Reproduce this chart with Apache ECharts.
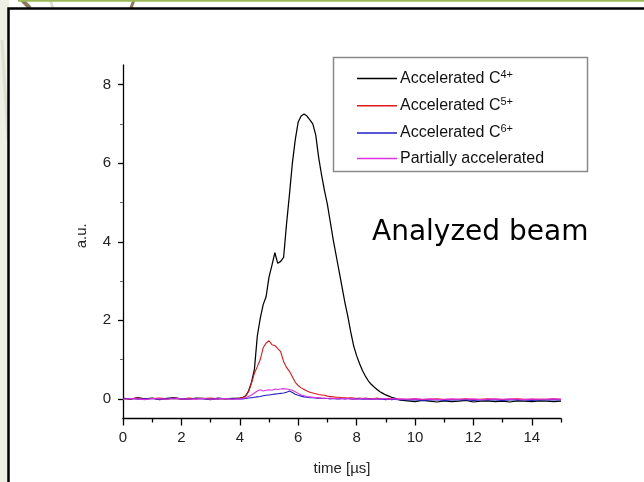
<!DOCTYPE html>
<html>
<head>
<meta charset="utf-8">
<script src="https://cdn.jsdelivr.net/npm/echarts@6/dist/echarts.min.js"></script>
<style>
html,body{margin:0;padding:0;background:#fff;}
#chart{width:644px;height:482px;}
</style>
</head>
<body>
<div id="chart"></div>
<script>
// time axis samples (µs)
const times = [
  0,0.25,0.5,0.75,1,1.25,1.5,1.75,2,2.25,2.5,2.75,3,3.25,3.5,3.75,4,
  4.1,4.2,4.3,4.4,4.5,4.6,4.7,4.8,4.9,5,5.1,5.2,5.3,5.4,5.5,5.6,5.7,5.8,5.9,6,
  6.1,6.2,6.3,6.4,6.5,6.6,6.7,6.8,6.9,7,7.1,7.2,7.3,7.4,7.5,
  7.6,7.7,7.8,7.9,8,8.1,8.2,8.3,8.4,8.5,8.6,8.7,8.8,8.9,9,9.1,9.2,9.3,9.4,9.5,
  9.75,10,10.25,10.5,10.75,11,11.25,11.5,11.75,12,12.25,12.5,12.75,13,13.25,13.5,13.75,14,14.25,14.5,14.75,15
];
const c4Values = [
  0.02,-0.01,0.03,0,0.02,-0.02,0.01,0.03,0,-0.01,0.02,0.01,-0.02,0.02,0,0.01,0.02,
  0.03,0.08,0.2,0.42,0.75,1.6,2.05,2.4,2.6,3.1,3.4,3.72,3.45,3.5,3.6,4.45,5.2,6.0,6.6,7.05,
  7.2,7.25,7.2,7.1,7.0,6.72,6.15,5.7,5.3,4.95,4.5,4.05,3.65,3.25,2.85,
  2.45,2.1,1.7,1.35,1.1,0.9,0.72,0.58,0.46,0.37,0.3,0.24,0.18,0.14,0.1,0.07,0.04,0.02,-0.01,-0.03,
  -0.05,-0.07,-0.04,-0.06,-0.08,-0.05,-0.07,-0.06,-0.04,-0.08,-0.06,-0.05,-0.07,-0.06,-0.08,-0.05,-0.06,-0.07,-0.05,-0.06,-0.07,-0.06
];
const c5Values = [
  0.01,0,0.02,-0.01,0.01,0.02,0,0.01,-0.01,0.02,0,0.01,0.02,0,0.01,0,0.02,
  0.03,0.07,0.18,0.4,0.65,0.82,1.0,1.3,1.42,1.48,1.38,1.36,1.28,1.2,0.95,0.8,0.7,0.56,0.42,0.34,
  0.28,0.24,0.2,0.17,0.15,0.13,0.11,0.1,0.09,0.07,0.06,0.05,0.04,0.04,0.03,
  0.03,0.02,0.03,0.02,0.01,0.02,0.01,0.02,0.01,0,0.01,0.02,0,0.01,0,0.01,0,-0.01,0,-0.01,
  -0.01,0,-0.02,-0.01,0,-0.02,-0.01,-0.01,0,-0.02,-0.01,0,-0.01,-0.02,-0.01,0,-0.01,-0.02,-0.01,-0.01,0,-0.01
];
const c6Values = [
  0,0.01,-0.01,0,0.01,-0.01,0,0.01,0,-0.01,0.01,0,-0.01,0,0.01,0,0,
  0,0.01,0.02,0.03,0.04,0.05,0.06,0.08,0.09,0.1,0.11,0.12,0.13,0.14,0.15,0.17,0.2,0.16,0.12,0.09,
  0.07,0.05,0.04,0.03,0.03,0.02,0.02,0.01,0.01,0.01,0,0.01,0,0,0.01,
  0,0.01,0,-0.01,0,0,-0.01,0,-0.01,0,-0.01,-0.01,0,-0.01,-0.02,-0.01,-0.02,-0.01,-0.02,-0.02,
  -0.03,-0.02,-0.04,-0.03,-0.02,-0.04,-0.03,-0.03,-0.02,-0.04,-0.03,-0.02,-0.03,-0.04,-0.03,-0.02,-0.03,-0.04,-0.03,-0.03,-0.02,-0.03
];
const partialValues = [
  -0.01,0.01,0,-0.02,0.01,0,-0.01,0.02,0,-0.01,0,0.01,-0.01,0,0.01,-0.01,0,
  0.01,0.03,0.06,0.1,0.15,0.2,0.23,0.2,0.22,0.23,0.22,0.25,0.24,0.25,0.26,0.25,0.24,0.22,0.18,0.14,
  0.1,0.08,0.06,0.05,0.04,0.03,0.03,0.02,0.02,0.01,0.02,0.01,0.01,0,0.01,
  0,0.01,0,0,-0.01,0,0.01,0,-0.01,0,0,-0.01,0,0.01,0,-0.01,0,0,-0.01,0,
  -0.01,0,-0.01,0,-0.02,-0.01,0,-0.01,-0.01,0,-0.02,-0.01,0,-0.01,0,-0.01,-0.02,0,-0.01,-0.01,0,-0.01
];
const seriesNames = ['Accelerated C4+','Accelerated C5+','Accelerated C6+','Partially accelerated'];
const legendBase = ['Accelerated C','Accelerated C','Accelerated C','Partially accelerated'];
const legendSup = ['4+','5+','6+',''];
const xMajorTicks = [0,2,4,6,8,10,12,14];
const xMinorTicks = [1,3,5,7,9,11,13,15];
const yMajorTicks = [0,2,4,6,8];
const yMinorTicks = [1,3,5,7];
const seriesColors = ['#000000','#e01818','#2020c8','#e030e0'];

const pairs = vals => times.map((t,i)=>[t, vals[i]]);
const allValues = [c4Values,c5Values,c6Values,partialValues];

const chart = echarts.init(document.getElementById('chart'), null, {renderer:'canvas'});
const FONT = '"Liberation Sans", Arial, sans-serif';
const axisCommon = {
  axisLine:{show:true, onZero:false, lineStyle:{color:'#000', width:1.3}},
  splitLine:{show:false}
};
chart.setOption({
  animation:false,
  backgroundColor:'#ffffff',
  graphic:[
    {type:'rect', z:-10, shape:{x:0,y:0,width:9,height:482}, style:{fill:'#eef0e4'}},
    {type:'line', z:-9, shape:{x1:2,y1:40,x2:8,y2:140}, style:{stroke:'#dde0d0', lineWidth:3}},
    {type:'line', z:-9, shape:{x1:22,y1:0,x2:30,y2:8}, style:{stroke:'#8a7a5a', lineWidth:4}},
    {type:'line', z:-9, shape:{x1:131,y1:8,x2:134,y2:0}, style:{stroke:'#8a7a5a', lineWidth:3}},
    {type:'line', z:-9, shape:{x1:50,y1:0,x2:53,y2:8}, style:{stroke:'#dde0d0', lineWidth:3}},
    {type:'line', z:-8, shape:{x1:18,y1:0.8,x2:644,y2:0.8}, style:{stroke:'#9bbb59', lineWidth:2}},
    {type:'rect', z:-8, shape:{x:8.5,y:8.5,width:700,height:500}, style:{fill:'#ffffff', stroke:'#000', lineWidth:2.5}},
    {type:'rect', z:5, shape:{x:333.5,y:57.5,width:254,height:114}, style:{fill:'#ffffff', stroke:'#8a8a8a', lineWidth:1.5}},
    {type:'text', z:10, left:372, top:219, style:{text:'Analyzed beam', font:'28px "DejaVu Sans", sans-serif', fill:'#000'}}
  ],
  grid:{left:123, right:83, top:65, bottom:63.5},
  legend:{
    show:true, orient:'vertical', left:352, top:64, z:10,
    itemWidth:40, itemHeight:1.5, itemGap:8.2, icon:'rect',
    data:seriesNames.map((n,i)=>({name:n, itemStyle:{color:seriesColors[i]}})),
    formatter: name => {
      const i = seriesNames.indexOf(name);
      return legendSup[i] ? '{n|'+legendBase[i]+'}{s|'+legendSup[i]+'}' : '{n|'+legendBase[i]+'}';
    },
    textStyle:{
      color:'#111', fontFamily:FONT, fontSize:16, padding:[0,0,0,-2],
      rich:{
        n:{fontSize:16, fontFamily:FONT, color:'#111', lineHeight:18},
        s:{fontSize:11, fontFamily:FONT, color:'#111', padding:[0,0,8,0], lineHeight:18}
      }
    }
  },
  xAxis:[
    Object.assign({}, axisCommon, {
      type:'value', min:0, max:15, position:'bottom',
      name:'time [\u00b5s]', nameLocation:'middle', nameGap:43,
      nameTextStyle:{fontFamily:FONT, fontSize:15, color:'#222'},
      axisTick:{show:true, inside:false, length:7, customValues:xMajorTicks, lineStyle:{color:'#000', width:1.3}},
      axisLabel:{show:true, margin:12, fontFamily:FONT, fontSize:15, color:'#222', customValues:xMajorTicks}
    }),
    {
      type:'value', min:0, max:15, position:'bottom', offset:0,
      axisLine:{show:false, onZero:false}, splitLine:{show:false}, axisLabel:{show:false},
      axisTick:{show:true, length:4, customValues:xMinorTicks, lineStyle:{color:'#000', width:1.3}}
    }
  ],
  yAxis:[
    Object.assign({}, axisCommon, {
      type:'value', min:-0.5, max:8.5, position:'left',
      name:'a.u.', nameLocation:'middle', nameGap:34,
      nameTextStyle:{fontFamily:FONT, fontSize:15, color:'#222', padding:[0,0,0,12]},
      axisTick:{show:true, length:5, customValues:yMajorTicks, lineStyle:{color:'#000', width:1.3}},
      axisLabel:{show:true, margin:12, fontFamily:FONT, fontSize:15, color:'#222', customValues:yMajorTicks}
    }),
    {
      type:'value', min:-0.5, max:8.5, position:'left', offset:0,
      axisLine:{show:false, onZero:false}, splitLine:{show:false}, axisLabel:{show:false},
      axisTick:{show:true, length:3, customValues:yMinorTicks, lineStyle:{color:'#666', width:1}}
    }
  ],
  series: seriesNames.map((n,i)=>({
    name:n, type:'line', xAxisIndex:0, yAxisIndex:0,
    data:pairs(allValues[i]), showSymbol:false, symbol:'none',
    lineStyle:{color:seriesColors[i], width:i===0?1.25:1.1}, itemStyle:{color:seriesColors[i]},
    z:2+i
  }))
});
</script>
</body>
</html>
